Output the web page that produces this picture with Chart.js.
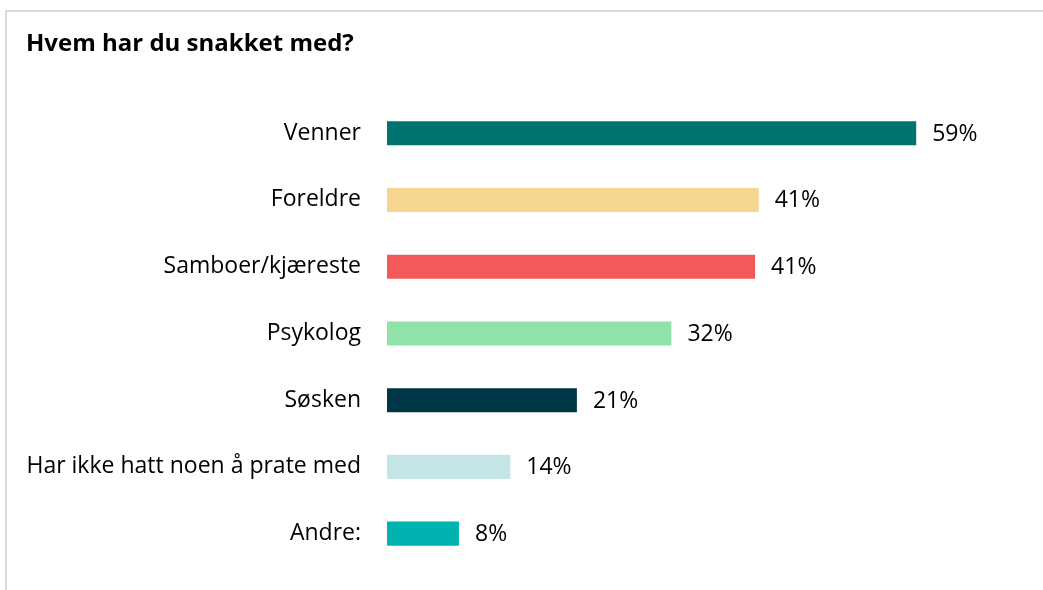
<!DOCTYPE html>
<html>
<head>
<meta charset="utf-8">
<script src="https://cdn.jsdelivr.net/npm/chart.js@4/dist/chart.umd.min.js"></script>
<style>
  body { margin: 0; background: #fff; }
  #frame {
    position: absolute; left: 5px; top: 10px; width: 1100px; height: 700px;
    border-top: 2px solid #d9d9d9; border-left: 2px solid #d9d9d9;
  }
  #wrap { position: absolute; left: 0; top: 0; width: 1043px; height: 590px; }
</style>
</head>
<body>
<div id="frame"></div>
<div id="wrap"><canvas id="chart-talk"></canvas></div>
<script>
var categories = ['Venner', 'Foreldre', 'Samboer/kjæreste', 'Psykolog', 'Søsken', 'Har ikke hatt noen å prate med', 'Andre:'];
var values = [58.8, 41.3, 40.9, 31.6, 21.1, 13.7, 8.0];
var valueLabels = ['59%', '41%', '41%', '32%', '21%', '14%', '8%'];
var barColors = ['#007370', '#F6D58E', '#F25A5A', '#8FE3A8', '#003746', '#C3E5E6', '#00B2B0'];

var fontFamily = "'Open Sans', sans-serif";

// percent labels to the right of every bar
var valueLabelPlugin = {
  id: 'valueLabels',
  afterDatasetsDraw: function (chart) {
    var ctx = chart.ctx;
    var meta = chart.getDatasetMeta(0);
    ctx.save();
    ctx.font = "23px " + fontFamily;
    ctx.fillStyle = '#000';
    ctx.textAlign = 'left';
    ctx.textBaseline = 'middle';
    meta.data.forEach(function (bar, i) {
      ctx.fillText(valueLabels[i], bar.x + 16, bar.y + 1);
    });
    ctx.restore();
  }
};

var ctx = document.getElementById("chart-talk");
var chartTalk = new Chart(ctx, {
  type: 'bar',
  plugins: [valueLabelPlugin],
  data: {
    labels: categories,
    datasets: [{
      data: values,
      backgroundColor: barColors,
      borderWidth: 0,
      barPercentage: 0.36,
      categoryPercentage: 1.0
    }]
  },
  options: {
    indexAxis: 'y',
    responsive: true,
    maintainAspectRatio: false,
    animation: false,
    layout: {
      padding: { left: 26, right: 26, top: 0, bottom: 23 }
    },
    plugins: {
      legend: { display: false },
      tooltip: { enabled: false },
      title: {
        display: true,
        text: 'Hvem har du snakket med?',
        align: 'start',
        color: '#000',
        font: { family: fontFamily, size: 24, weight: 'bold' },
        padding: { top: 30, bottom: 41 }
      }
    },
    scales: {
      x: {
        display: false,
        min: 0,
        max: 70
      },
      y: {
        afterFit: function (scale) {
          scale.width = 361;
          scale.paddingTop = 0;
          scale.paddingBottom = 0;
        },
        grid: { display: false },
        border: { display: false },
        ticks: {
          color: '#000',
          padding: 18,
          font: { family: fontFamily, size: 23 }
        }
      }
    }
  }
});
</script>
</body>
</html>
